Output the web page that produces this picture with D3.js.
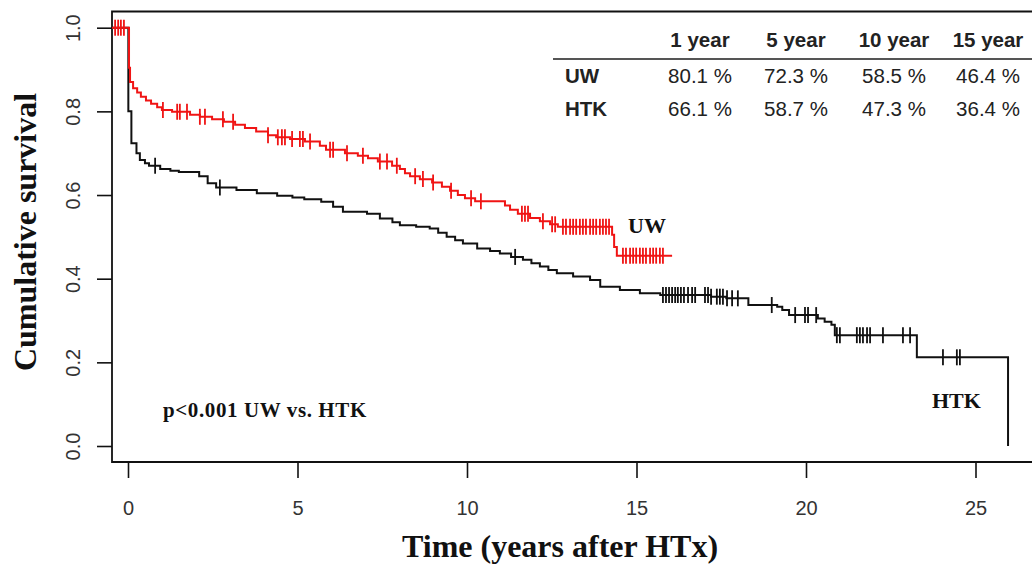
<!DOCTYPE html>
<html lang="en">
<head>
    <meta charset="UTF-8">
    <title>Cumulative survival UW vs HTK</title>
    <script src="https://cdn.jsdelivr.net/npm/d3@7"></script>
    <style>
        body { margin: 0; background: #fff; }
        .tick text { font-family: Arial, "Liberation Sans", sans-serif; font-size: 20px; fill: #333; }
        .tick line { stroke: #111; stroke-width: 1.6; }
        .serif { font-family: "Liberation Serif", "Times New Roman", serif; font-weight: bold; fill: #111; }
        .tbl { font-family: Arial, "Liberation Sans", sans-serif; font-size: 20.5px; fill: #222; }
    </style>
</head>
<body>
<div id="chart"></div>
<script>
    // UW curve: step times (years) and survival after each step
    const uwTime = [-0.47, 0.03, 0.06, 0.15, 0.27, 0.38, 0.53, 0.68, 0.86, 1.0, 1.3, 1.83, 2.12, 2.48, 2.83,
        3.16, 3.45, 3.78, 4.13, 4.37, 4.78, 5.22, 5.66, 5.84, 6.4, 6.78, 7.08, 7.37, 7.79, 8.02, 8.17, 8.32,
        8.61, 8.97, 9.26, 9.5, 9.73, 9.94, 10.24, 11.12, 11.27, 11.5, 11.86, 12.15, 12.45, 12.68, 14.28,
        14.34, 14.42, 16.05];
    const uwSurv = [1.0, 0.904, 0.87, 0.855, 0.845, 0.835, 0.826, 0.818, 0.81, 0.803, 0.799, 0.792, 0.787, 0.781, 0.775,
        0.768, 0.76, 0.752, 0.743, 0.738, 0.734, 0.728, 0.718, 0.708, 0.7, 0.694, 0.688, 0.68, 0.67, 0.662, 0.652, 0.645,
        0.638, 0.63, 0.62, 0.61, 0.6, 0.592, 0.585, 0.575, 0.565, 0.555, 0.545, 0.537, 0.53, 0.524, 0.505,
        0.476, 0.455, 0.455];
    const uwCensor = [-0.38, -0.29, -0.21, -0.12, 1.03, 1.45, 1.53, 1.74, 2.12, 2.27, 2.8, 3.1, 4.13, 4.42, 4.54,
        4.63, 4.84, 5.07, 5.16, 5.37, 5.96, 6.05, 6.46, 6.93, 7.43, 7.64, 7.93, 8.47, 8.7, 9.0, 9.53, 10.12,
        10.41, 11.62, 11.71, 11.8, 12.24, 12.51, 12.6, 12.83, 12.92, 13.04, 13.13, 13.22, 13.33, 13.42, 13.51,
        13.63, 13.72, 13.81, 13.92, 14.01, 14.1, 14.19, 14.6, 14.69, 14.81, 14.9, 14.99, 15.1, 15.19, 15.28,
        15.4, 15.49, 15.58, 15.69, 15.78];

    // HTK curve
    const htkTime = [-0.47, 0.01, 0.1, 0.25, 0.35, 0.5, 0.62, 0.95, 1.25, 1.5, 2.1, 2.35, 2.6, 3.2, 3.8, 4.4,
        4.85, 5.2, 5.7, 6.05, 6.34, 7.05, 7.43, 7.8, 8.02, 8.5, 8.9, 9.15, 9.4, 9.65, 9.88, 10.3, 10.68, 10.97,
        11.3, 11.65, 11.9, 12.15, 12.4, 12.65, 13.13, 13.63, 13.93, 14.51, 15.1, 15.7, 17.2, 17.65, 18.3,
        19.15, 19.3, 19.5, 20.35, 20.55, 20.75, 20.85, 23.27, 25.96];
    const htkSurv = [1.0, 0.8, 0.724, 0.7, 0.684, 0.676, 0.67, 0.662, 0.658, 0.655, 0.645, 0.628, 0.618, 0.612, 0.604, 0.598,
        0.594, 0.59, 0.584, 0.572, 0.56, 0.555, 0.544, 0.535, 0.528, 0.524, 0.52, 0.51, 0.5, 0.492, 0.484, 0.472, 0.466, 0.46,
        0.452, 0.445, 0.437, 0.429, 0.421, 0.413, 0.405, 0.397, 0.381, 0.373, 0.365, 0.361, 0.357, 0.353, 0.337,
        0.333, 0.325, 0.313, 0.305, 0.297, 0.29, 0.265, 0.212, 0.0];
    const htkCensor = [0.8, 2.71, 11.42, 15.78, 15.87, 15.96, 16.05, 16.14, 16.22, 16.31, 16.4, 16.52, 16.64, 16.73,
        17.02, 17.11, 17.2, 17.37, 17.46, 17.55, 17.67, 17.82, 17.99, 18.99, 19.68, 19.97, 20.06, 20.3, 20.91, 21.0,
        21.5, 21.59, 21.68, 21.8, 21.89, 22.27, 22.86, 23.07, 24.04, 24.45, 24.54];

    // table
    const tableHeads = ["1 year", "5 year", "10 year", "15 year"];
    const tableGroups = ["UW", "HTK"];
    const uwRates = ["80.1 %", "72.3 %", "58.5 %", "46.4 %"];
    const htkRates = ["66.1 %", "58.7 %", "47.3 %", "36.4 %"];

    const xTicks = [0, 5, 10, 15, 20, 25];
    const yTicks = [0, 0.2, 0.4, 0.6, 0.8, 1.0];

    const width = 1032, height = 567;
    const x = d3.scaleLinear().domain([0, 25]).range([128, 975.5]);
    const y = d3.scaleLinear().domain([0, 1]).range([446, 27.7]);

    const svg = d3.select("#chart").append("svg")
        .attr("width", width)
        .attr("height", height);

    // box
    svg.append("path")
        .attr("d", "M1040,11.5 H112 V462 H1040")
        .attr("fill", "none")
        .attr("stroke", "#111")
        .attr("stroke-width", 1.8);

    // y axis
    const yAxis = svg.append("g")
        .attr("transform", "translate(112,0)")
        .call(d3.axisLeft(y).tickValues(yTicks).tickSize(15).tickFormat(d3.format(".1f")));
    yAxis.select(".domain").remove();
    yAxis.selectAll(".tick text")
        .attr("x", null).attr("dy", null)
        .attr("text-anchor", "middle")
        .attr("transform", "translate(-32,0) rotate(-90)");

    // x axis
    const xAxis = svg.append("g")
        .attr("transform", "translate(0,462)")
        .call(d3.axisBottom(x).tickValues(xTicks).tickSize(16));
    xAxis.select(".domain").remove();
    xAxis.selectAll(".tick text").attr("y", 53).attr("dy", null);

    // axis titles
    svg.append("text")
        .attr("class", "serif")
        .attr("x", 560).attr("y", 557)
        .attr("text-anchor", "middle")
        .style("font-size", "32px")
        .text("Time (years after HTx)");
    svg.append("text")
        .attr("class", "serif")
        .attr("transform", "translate(36,232) rotate(-90)")
        .attr("text-anchor", "middle")
        .style("font-size", "32px")
        .text("Cumulative survival");

    function stepAt(times, surv, t) {
        let s = surv[0];
        for (let i = 0; i < times.length; i++) {
            if (times[i] <= t) s = surv[i];
        }
        return s;
    }

    const line = d3.line()
        .x(d => x(d[0]))
        .y(d => y(d[1]))
        .curve(d3.curveStepAfter);

    function drawCurve(times, surv, censor, color) {
        const pts = times.map((t, i) => [t, surv[i]]);
        svg.append("path")
            .datum(pts)
            .attr("d", line)
            .attr("fill", "none")
            .attr("stroke", color)
            .attr("stroke-width", 2);
        svg.append("g").selectAll("line")
            .data(censor)
            .enter().append("line")
            .attr("x1", d => x(d)).attr("x2", d => x(d))
            .attr("y1", d => y(stepAt(times, surv, d)) - 8)
            .attr("y2", d => y(stepAt(times, surv, d)) + 8)
            .attr("stroke", color)
            .attr("stroke-width", 1.8);
    }

    drawCurve(htkTime, htkSurv, htkCensor, "#111");
    drawCurve(uwTime, uwSurv, uwCensor, "#f01414");

    // curve labels
    svg.append("text").attr("class", "serif")
        .attr("x", 628).attr("y", 233)
        .style("font-size", "22px").text("UW");
    svg.append("text").attr("class", "serif")
        .attr("x", 932).attr("y", 408)
        .style("font-size", "22px").text("HTK");
    svg.append("text").attr("class", "serif")
        .attr("x", 163).attr("y", 417)
        .style("font-size", "21px")
        .style("letter-spacing", "0.6px")
        .text("p<0.001 UW vs. HTK");

    // survival table
    const colX = [700, 796, 894, 988];
    const tbl = svg.append("g");
    tbl.selectAll(".head")
        .data(tableHeads)
        .enter().append("text")
        .attr("class", "tbl")
        .attr("x", (d, i) => colX[i]).attr("y", 47)
        .attr("text-anchor", "middle")
        .style("font-weight", "bold")
        .text(d => d);
    tbl.append("line")
        .attr("x1", 553).attr("x2", 1032)
        .attr("y1", 59).attr("y2", 59)
        .attr("stroke", "#555").attr("stroke-width", 2);
    [uwRates, htkRates].forEach((rates, r) => {
        const yy = 83 + r * 33;
        tbl.append("text")
            .attr("class", "tbl")
            .attr("x", 565).attr("y", yy)
            .style("font-weight", "bold")
            .text(tableGroups[r]);
        tbl.selectAll(".row" + r)
            .data(rates)
            .enter().append("text")
            .attr("class", "tbl")
            .attr("x", (d, i) => colX[i]).attr("y", yy)
            .attr("text-anchor", "middle")
            .text(d => d);
    });
</script>
</body>
</html>
